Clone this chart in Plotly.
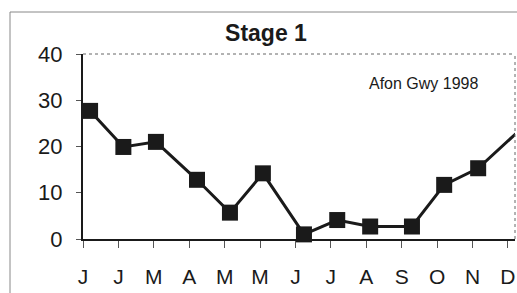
import plotly.graph_objects as go

# Category tick labels (months)
tick_labels = ["J", "J", "M", "A", "M", "M", "J", "J", "A", "S", "O", "N", "D"]
tick_pos = list(range(len(tick_labels)))

# Sample dates (in month units on the axis) and values
sample_x = [0.20, 1.14, 2.06, 3.22, 4.15, 5.08, 6.24, 7.18, 8.11, 9.29, 10.20, 11.16]
sample_y = [27.7, 19.9, 21.0, 12.8, 5.7, 14.2, 1.0, 4.1, 2.7, 2.7, 11.7, 15.3]

# Neighbouring samples just outside the shown period (line runs off the axes)
before_x, before_y = [-0.8], [23.0]
after_x, after_y = [12.4], [24.0]

FONT = "Liberation Sans, Arial, sans-serif"

fig = go.Figure()
fig.add_trace(go.Scatter(
    x=before_x + sample_x + after_x,
    y=before_y + sample_y + after_y,
    mode="lines",
    line=dict(color="#1a1a1a", width=3),
    hoverinfo="skip",
))
fig.add_trace(go.Scatter(
    x=sample_x, y=sample_y,
    mode="markers",
    marker=dict(symbol="square", size=16, color="#1a1a1a"),
    cliponaxis=False,
))

fig.update_layout(
    width=517, height=293,
    margin=dict(l=83, r=2, t=54, b=54, autoexpand=False),
    paper_bgcolor="white", plot_bgcolor="white",
    showlegend=False,
    font=dict(family=FONT, color="#1a1a1a"),
    title=dict(text="<b>Stage 1</b>", x=266/517, xanchor="center",
               y=1-33/293, yanchor="middle", yref="container",
               font=dict(size=23, family=FONT, color="#1a1a1a")),
    xaxis=dict(range=[0, 12.2], tickvals=tick_pos, ticktext=tick_labels,
               showgrid=False, zeroline=False, showline=True, automargin=False,
               linecolor="#1a1a1a", linewidth=2, ticks="outside",
               ticklen=7, tickcolor="#555", tickwidth=1,
               tickfont=dict(size=21), ticklabelstandoff=11),
    yaxis=dict(range=[0, 40], tickvals=[0, 10, 20, 30, 40],
               showgrid=False, zeroline=False, showline=True, automargin=False,
               linecolor="#1a1a1a", linewidth=2, ticks="outside",
               ticklen=5, tickcolor="#555", tickwidth=1,
               tickfont=dict(size=22), ticklabelstandoff=9),
    annotations=[dict(text="Afon Gwy 1998", xref="paper", yref="paper",
                      x=(424-83)/432, y=(239-83)/185, showarrow=False,
                      xanchor="center", yanchor="middle",
                      font=dict(size=16, family=FONT, color="#1a1a1a"))],
    shapes=[
        # dotted top and right plot-area borders
        dict(type="line", xref="paper", yref="paper", x0=0, x1=1, y0=1, y1=1,
             line=dict(color="#666", width=1, dash="dot")),
        dict(type="line", xref="paper", yref="paper", x0=1, x1=1, y0=0, y1=1,
             line=dict(color="#666", width=1, dash="dot")),
        # outer chart frame (left and top)
        dict(type="line", xref="paper", yref="paper",
             x0=(10-83)/432, x1=(10-83)/432, y0=(239-12)/185, y1=(239-300)/185,
             line=dict(color="#888", width=1)),
        dict(type="line", xref="paper", yref="paper",
             x0=(10-83)/432, x1=(530-83)/432, y0=(239-12)/185, y1=(239-12)/185,
             line=dict(color="#888", width=1)),
    ],
)

fig.write_html(
    "out.html",
    config={"displayModeBar": False},
    post_script="document.body.style.margin='0';document.body.style.overflow='hidden';",
)
